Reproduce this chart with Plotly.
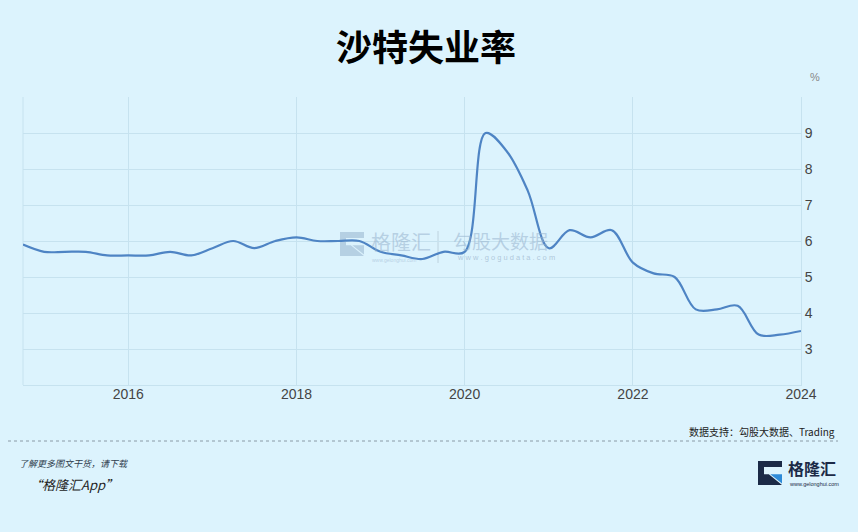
import plotly.graph_objects as go

# ---- data ----
dates = [
    "2014-10-01",
    "2015-01-01", "2015-04-01", "2015-07-01", "2015-10-01",
    "2016-01-01", "2016-04-01", "2016-07-01", "2016-10-01",
    "2017-01-01", "2017-04-01", "2017-07-01", "2017-10-01",
    "2018-01-01", "2018-04-01", "2018-07-01", "2018-10-01",
    "2019-01-01", "2019-04-01", "2019-07-01", "2019-10-01",
    "2020-01-01", "2020-04-01", "2020-07-01", "2020-10-01",
    "2021-01-01", "2021-04-01", "2021-07-01", "2021-10-01",
    "2022-01-01", "2022-04-01", "2022-07-01", "2022-10-01",
    "2023-01-01", "2023-04-01", "2023-07-01", "2023-10-01",
    "2024-01-01",
]
unemployment = [
    5.9,
    5.7, 5.7, 5.7, 5.6,
    5.6, 5.6, 5.7, 5.6,
    5.8, 6.0, 5.8, 6.0,
    6.1, 6.0, 6.0, 6.0,
    5.7, 5.6, 5.5, 5.7,
    5.7, 9.0, 8.5, 7.4,
    5.8, 6.3, 6.1, 6.3,
    5.4, 5.1, 5.0, 4.1,
    4.1, 4.2, 3.4, 3.4,
    3.5,
]
x_tickvals = ["2016-01-01", "2018-01-01", "2020-01-01", "2022-01-01", "2024-01-01"]
x_ticktext = ["2016", "2018", "2020", "2022", "2024"]
y_tickvals = [2, 3, 4, 5, 6, 7, 8, 9, 10]
y_ticktext = ["", "3", "4", "5", "6", "7", "8", "9", ""]

title_text = "沙特失业率"
source_text = "数据支持：勾股大数据、Trading"
promo_line1 = "了解更多图文干货，请下载"
promo_line2 = "“格隆汇App”"

# ---- layout geometry (pixels) ----
W, H = 858, 532
L, R, T, B = 23, 801, 97, 385
BG = "#DCF3FD"
GRID = "#C6E2EF"
LINE = "#4E84C4"
CJK = "Noto Sans CJK SC"
WM = "rgba(150,178,205,0.55)"


def px(x):
    return (x - L) / (R - L)


def py(y):
    return (B - y) / (B - T)


fig = go.Figure()
fig.add_trace(go.Scatter(
    x=dates, y=unemployment, mode="lines",
    line=dict(color=LINE, width=2.2, shape="spline", smoothing=1.0),
    hoverinfo="x+y", showlegend=False,
))

shapes = []
# left border of plot
shapes.append(dict(type="line", xref="paper", yref="paper", x0=0, x1=0, y0=0, y1=1,
                   line=dict(color=GRID, width=1), layer="below"))
# footer dashed separator
shapes.append(dict(type="line", xref="paper", yref="paper",
                   x0=px(8), x1=px(838), y0=py(441), y1=py(441),
                   line=dict(color="#8A9AA6", width=1, dash="dot")))
# watermark separator
shapes.append(dict(type="line", xref="paper", yref="paper",
                   x0=px(438), x1=px(438), y0=py(231), y1=py(263),
                   line=dict(color="rgba(170,190,205,0.6)", width=1), layer="below"))


def logo_shapes(x0, y0, s, dark, accent, layer):
    t = s * 0.25
    m = s * 0.55
    pts = [(0, 0), (s, 0), (s, t), (t, t), (t, m), (0.45 * s, m), (s, s), (0, s)]
    path = "M " + " L ".join("{} {}".format(px(x0 + a), py(y0 + b)) for a, b in pts) + " Z"
    tri = [(0.45 * s + 1.5, m), (s, m), (s, s - 1.5)]
    tpath = "M " + " L ".join("{} {}".format(px(x0 + a), py(y0 + b)) for a, b in tri) + " Z"
    return [
        dict(type="path", xref="paper", yref="paper", path=path,
             fillcolor=dark, line=dict(width=0), layer=layer),
        dict(type="path", xref="paper", yref="paper", path=tpath,
             fillcolor=accent, line=dict(width=0), layer=layer),
    ]


shapes += logo_shapes(758, 461, 24, "#1B2A47", "#2E8BD8", "above")
shapes += logo_shapes(340, 232, 24, WM, WM, "below")

annotations = [
    dict(text=title_text, xref="paper", yref="paper", x=px(426), y=py(45),
         xanchor="center", yanchor="middle", showarrow=False,
         font=dict(family=CJK, size=36, color="#000000", weight="bold")),
    dict(text="%", xref="paper", yref="paper", x=px(808), y=py(77),
         xanchor="left", yanchor="middle", showarrow=False,
         font=dict(family="Liberation Sans", size=11, color="#888888")),
    dict(text=source_text, xref="paper", yref="paper", x=px(837), y=py(431),
         xanchor="right", yanchor="middle", showarrow=False,
         font=dict(family=CJK, size=10, color="#222222")),
    dict(text="<i>" + promo_line1 + "</i>", xref="paper", yref="paper", x=px(17), y=py(463),
         xanchor="left", yanchor="middle", showarrow=False,
         font=dict(family=CJK, size=9, color="#2F3E4E")),
    dict(text="<i>" + promo_line2 + "</i>", xref="paper", yref="paper", x=px(27), y=py(484),
         xanchor="left", yanchor="middle", showarrow=False,
         font=dict(family=CJK, size=13, color="#222222")),
    # bottom-right logo text
    dict(text="格隆汇", xref="paper", yref="paper", x=px(786), y=py(468),
         xanchor="left", yanchor="middle", showarrow=False,
         font=dict(family=CJK, size=16, color="#1B2A47", weight="bold")),
    dict(text="www.gelonghui.com", xref="paper", yref="paper", x=px(787), y=py(484),
         xanchor="left", yanchor="middle", showarrow=False,
         font=dict(family="Liberation Sans", size=5.5, color="#1B2A47")),
    # watermark texts
    dict(text="格隆汇", xref="paper", yref="paper", x=px(369), y=py(241),
         xanchor="left", yanchor="middle", showarrow=False,
         font=dict(family=CJK, size=20, color=WM)),
    dict(text="www.gelonghui.com", xref="paper", yref="paper", x=px(370), y=py(260),
         xanchor="left", yanchor="middle", showarrow=False,
         font=dict(family="Liberation Sans", size=5, color=WM)),
    dict(text="勾股大数据", xref="paper", yref="paper", x=px(451), y=py(240),
         xanchor="left", yanchor="middle", showarrow=False,
         font=dict(family=CJK, size=19, color=WM)),
    dict(text="w w w . g o g u d a t a . c o m", xref="paper", yref="paper", x=px(455), y=py(257),
         xanchor="left", yanchor="middle", showarrow=False,
         font=dict(family="Liberation Sans", size=7.5, color="rgba(150,175,200,0.65)")),
]

fig.update_layout(
    width=W, height=H,
    margin=dict(l=L, r=W - R, t=T, b=H - B, pad=0),
    paper_bgcolor=BG, plot_bgcolor=BG,
    shapes=shapes, annotations=annotations,
    xaxis=dict(
        type="date", range=["2014-10-01", "2024-01-01"],
        tickvals=x_tickvals, ticktext=x_ticktext,
        showgrid=True, gridcolor=GRID, gridwidth=1,
        showline=True, linecolor=GRID, linewidth=1,
        zeroline=False, ticks="", ticklabelstandoff=-4,
        tickfont=dict(family="Liberation Sans", size=14, color="#444444"),
    ),
    yaxis=dict(
        range=[2, 10], side="right",
        tickvals=y_tickvals, ticktext=y_ticktext,
        showgrid=True, gridcolor=GRID, gridwidth=1,
        showline=True, linecolor=GRID, linewidth=1,
        zeroline=False, ticks="",
        tickfont=dict(family="Liberation Sans", size=14, color="#444444"),
    ),
)

fig.write_html(
    "out.html",
    config={"displayModeBar": False},
    post_script="document.body.style.margin='0';document.body.style.padding='0';"
                "document.body.style.background='" + BG + "';",
)
